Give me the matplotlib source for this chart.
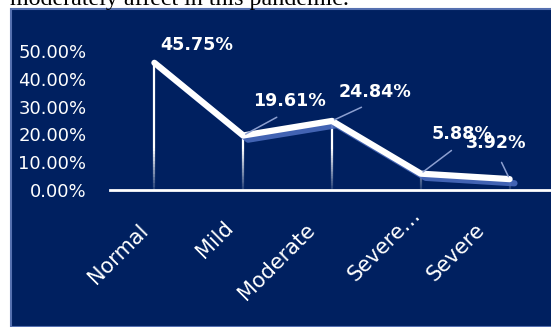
import numpy as np
import matplotlib
matplotlib.use('Agg')
import matplotlib.pyplot as plt
import matplotlib.patheffects as pe
from matplotlib.collections import LineCollection
from matplotlib.patches import Rectangle
from matplotlib.transforms import ScaledTranslation

# niveles y porcentaje de respuestas
categorias = ["Normal", "Mild", "Moderate", "Severe\u2026", "Severe"]
porcentajes = [0.4575, 0.1961, 0.2484, 0.0588, 0.0392]
yticks = [0.0, 0.1, 0.2, 0.3, 0.4, 0.5]

# desplazamiento de las etiquetas de datos (pixeles)
desp_etiq = [(42, 18), (46, 34), (43, 29), (41, 40), (-13, 36)]
# desplazamiento de las etiquetas del eje x (pixeles)
desp_x = [(-9, -37), (-13, -34), (-20, -37), (-3, -22), (-28, -37)]

FONDO = '#002060'
W, H = 551, 327

fig = plt.figure(figsize=(W / 100, H / 100), dpi=100)
fig.patch.set_facecolor('white')

# texto del documento que queda cortado arriba
fig.text(10 / W, 1 - 5 / H, 'moderately affect in this pandemic.', family='Liberation Serif',
         fontsize=17.3, color='black', va='baseline', ha='left')

# recuadro azul del grafico
fig.patches.append(Rectangle((10.5 / W, 0), 1, 1 - 8.5 / H, transform=fig.transFigure,
                             facecolor=FONDO, edgecolor='#5570b0', lw=1.5, zorder=-5))

ax = fig.add_axes([110 / W, (H - 190) / H, 444 / W, 139 / H])
ax.set_facecolor('none')
ax.set_zorder(2)
x = np.arange(len(categorias))
ax.set_xlim(-0.5, len(categorias) - 0.5)
ax.set_ylim(0, 0.5)

# lineas de caida con degradado
segs, cols = [], []
for xi, v in zip(x, porcentajes):
    ys = np.linspace(0, v, 40)
    for a, b in zip(ys[:-1], ys[1:]):
        t = (a + b) / 2 / 0.5
        alfa = 0.12 + 0.88 * min(1.0, t / 0.3)
        segs.append([(xi, a), (xi, b)])
        cols.append((1, 1, 1, alfa))
ax.add_collection(LineCollection(segs, colors=cols, linewidths=1.6, zorder=2))

# linea principal con sombra
ax.plot(x, porcentajes, color='white', lw=4.5, solid_capstyle='round',
        solid_joinstyle='round', zorder=3,
        path_effects=[pe.SimpleLineShadow(offset=(3.5, -3), shadow_color='#4a6bbd', alpha=0.9),
                      pe.Normal()])

# etiquetas de datos
for xi, v, (dx, dy) in zip(x, porcentajes, desp_etiq):
    flecha = None
    if xi > 0:
        flecha = dict(arrowstyle='-', color='#8c9fd0', lw=1.1, shrinkA=6, shrinkB=2,
                      relpos=(0.5, 0))
    ax.annotate('{:.2%}'.format(v), xy=(xi, v), xytext=(dx, dy), textcoords='offset pixels',
                ha='center', va='center', color='white', fontsize=12.6, fontweight='bold',
                arrowprops=flecha, zorder=4)

ax.set_yticks(yticks)
ax.set_yticklabels(['{:.2%}'.format(t) for t in yticks], color='white', fontsize=13)
ax.tick_params(axis='y', length=0, pad=17)

ax.set_xticks(x)
ax.set_xticklabels(categorias, color='white', fontsize=15, rotation=45,
                   ha='right', va='center', rotation_mode='anchor')
ax.tick_params(axis='x', length=0, pad=0)
for lab, (dx, dy) in zip(ax.get_xticklabels(), desp_x):
    lab.set_transform(ax.get_xaxis_transform() +
                      ScaledTranslation(dx / 100, dy / 100, fig.dpi_scale_trans))
    lab.set_y(0)

for s in ['top', 'right', 'left']:
    ax.spines[s].set_visible(False)
ax.spines['bottom'].set_color('white')
ax.spines['bottom'].set_linewidth(2)

fig.savefig('out.png', dpi=100, facecolor=fig.get_facecolor())
